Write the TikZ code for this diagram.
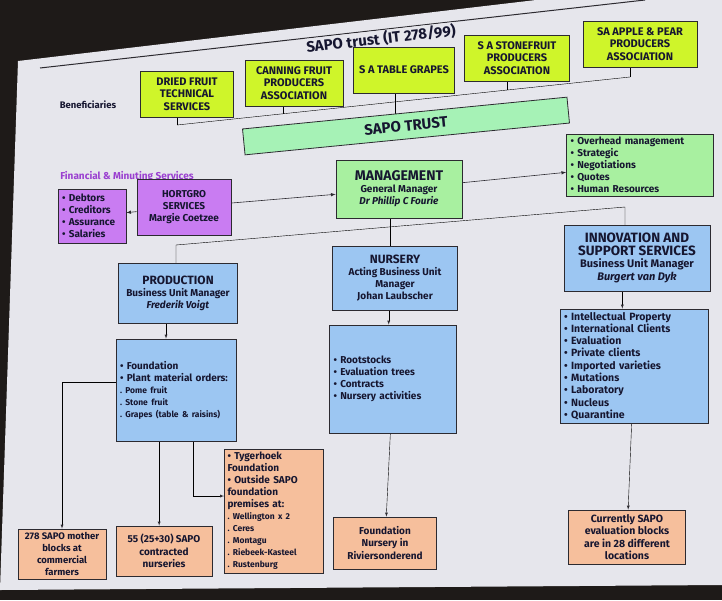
\documentclass[tikz,border=0pt]{standalone}
\usepackage{fontspec}
\setmainfont{Fira Sans}
\usepackage{tikz}
\usetikzlibrary{shapes,arrows,backgrounds,positioning,calc}

\definecolor{screen}{HTML}{1E1A18}
\definecolor{slide}{HTML}{E6E6EC}
\definecolor{ink}{HTML}{161630}
\definecolor{edge}{HTML}{2C2A30}
\definecolor{benefyellow}{HTML}{CFF52A}
\definecolor{trustgreen}{HTML}{A6F2B6}
\definecolor{mgmtgreen}{HTML}{A8F0A0}
\definecolor{hortpurple}{HTML}{C97CF2}
\definecolor{labelpurple}{HTML}{9A3FD0}
\definecolor{unitblue}{HTML}{9CC6F2}
\definecolor{sitepeach}{HTML}{F6BF9C}

\newcommand{\fsz}[2]{\fontsize{#1}{#2}\selectfont}
\newcommand{\smallitem}[1]{{\fsz{8.5}{11.5}.\ #1}}

\begin{document}
\begin{tikzpicture}[x=1pt, y=-1pt, >=latex,
  box/.style={draw=edge, line width=0.8pt, align=center, inner sep=2pt, text=ink, font=\bfseries\fsz{10}{12}},
  benef/.style={box, fill=benefyellow, minimum height=46pt, font=\bfseries\fsz{11}{12.5}},
  bullets/.style={box, align=left, inner sep=3pt},
  unitbox/.style={box, fill=unitblue},
  sitebox/.style={box, fill=sitepeach, font=\bfseries\fsz{9.5}{11.8}},
  link/.style={draw=edge, line width=0.6pt}]
\useasboundingbox (0,0) rectangle (722,600);
\begin{scope}[on background layer]
\fill [screen] (0,0) rectangle (722,600);
\fill [slide] (18,61) -- (536,0) -- (722,0) -- (722,585) -- (0,590) -- cycle;
\end{scope}

\draw [edge, line width=1pt] (40,68) -- (645,0);
\node [rotate=6.5, fill=slide, inner sep=1pt, text=ink, font=\bfseries\fsz{15}{17}] (title) at (381,39) {SAPO trust (IT 278/99)};
\node [text=ink, font=\bfseries\fsz{9.5}{11}] (benlabel) at (88,105) {Beneficiaries};

\node [benef, minimum width=93pt] (dried) at (187,94) {DRIED FRUIT\\TECHNICAL\\SERVICES};
\node [benef, minimum width=98pt] (canning) at (294,83) {CANNING FRUIT\\PRODUCERS\\ASSOCIATION};
\node [benef, minimum width=101pt] (grapes) at (404,70) {S A TABLE GRAPES};
\node [benef, minimum width=105pt] (stone) at (517,58) {S A STONEFRUIT\\PRODUCERS\\ASSOCIATION};
\node [benef, minimum width=114pt] (apple) at (640,44) {SA APPLE \& PEAR\\PRODUCERS\\ASSOCIATION};

\node [box, fill=trustgreen, rotate=5.6, minimum width=326pt, minimum height=26pt, font=\bfseries\fsz{15}{17}] (trust) at (406,126) {SAPO TRUST};

\node [text=labelpurple, font=\bfseries\fsz{10}{12}] (finlabel) at (127,177) {Financial \& Minuting Services};
\node [bullets, fill=hortpurple, minimum width=68pt, minimum height=54pt, text width=60pt] (finance) at (92,216) {• Debtors\\• Creditors\\• Assurance\\• Salaries};
\node [box, fill=hortpurple, minimum width=94pt, minimum height=56pt] (hortgro) at (184,207) {HORTGRO\\SERVICES\\Margie Coetzee};
\node [box, fill=mgmtgreen, minimum width=126pt, minimum height=58pt] (mgmt) at (399,189) {{\fsz{14}{16}MANAGEMENT}\\General Manager\\\textit{Dr Phillip C Fourie}};
\node [bullets, fill=mgmtgreen, minimum width=147pt, minimum height=62pt, text width=139pt] (overhead) at (640,165) {• Overhead management\\• Strategic\\• Negotiations\\• Quotes\\• Human Resources};

\node [unitbox, minimum width=119pt, minimum height=60pt] (prod) at (178,293) {{\fsz{12}{14}PRODUCTION}\\Business Unit Manager\\\textit{Frederik Voigt}};
\node [unitbox, minimum width=125pt, minimum height=64pt] (nursery) at (395,278) {{\fsz{12}{14}NURSERY}\\Acting Business Unit\\Manager\\Johan Laubscher};
\node [unitbox, minimum width=146pt, minimum height=66pt, font=\bfseries\fsz{11}{12.5}] (innov) at (637,258) {{\fsz{13.5}{14.5}INNOVATION AND}\\{\fsz{13.5}{14.5}SUPPORT SERVICES}\\Business Unit Manager\\\textit{Burgert van Dyk}};

\node [bullets, fill=unitblue, minimum width=120pt, minimum height=102pt, text width=112pt] (plist) at (176,390) {• Foundation\\• Plant material orders:\\\smallitem{Pome fruit}\\\smallitem{Stone fruit}\\\smallitem{Grapes (table \& raisins)}};
\node [bullets, fill=unitblue, minimum width=127pt, minimum height=108pt, text width=119pt] (nlist) at (393,379) {• Rootstocks\\• Evaluation trees\\• Contracts\\• Nursery activities};
\node [bullets, fill=unitblue, minimum width=148pt, minimum height=114pt, text width=140pt, font=\bfseries\fsz{10.5}{12.3}] (ilist) at (634,366) {• Intellectual Property\\• International Clients\\• Evaluation\\• Private clients\\• Imported varieties\\• Mutations\\• Laboratory\\• Nucleus\\• Quarantine};

\node [sitebox, minimum width=88pt, minimum height=50pt] (boxa) at (62,554) {278 SAPO mother\\blocks at\\commercial\\farmers};
\node [sitebox, minimum width=96pt, minimum height=50pt, font=\bfseries\fsz{10}{12.5}] (boxb) at (164,551) {55 (25+30) SAPO\\contracted\\nurseries};
\node [sitebox, bullets, minimum width=99pt, minimum height=124pt, text width=93pt] (boxc) at (274,511) {• Tygerhoek\\Foundation\\• Outside SAPO\\foundation\\premises at:\\\smallitem{Wellington x 2}\\\smallitem{Ceres}\\\smallitem{Montagu}\\\smallitem{Riebeek-Kasteel}\\\smallitem{Rustenburg}};
\node [sitebox, minimum width=103pt, minimum height=52pt, font=\bfseries\fsz{10}{12.5}] (boxd) at (385,543) {Foundation\\Nursery in\\Riviersonderend};
\node [sitebox, minimum width=117pt, minimum height=54pt, font=\bfseries\fsz{10.5}{12.3}] (boxe) at (627,537) {Currently SAPO\\evaluation blocks\\are in 28 different\\locations};

\begin{scope}[on background layer, link]
\coordinate (b1) at (177,125);
\coordinate (b5) at (630,77);
\draw (b1) -- (b5);
\foreach \n/\t in {dried/0, canning/0.234, grapes/0.481, stone/0.728, apple/1}
  \draw ($(b1)!\t!(b5)$) coordinate (drop) -- (drop |- \n.center);
\coordinate (g) at ($(b1)!0.481!(b5)$);
\draw (g) -- (g |- trust.center);
\coordinate (j1) at (176,245);
\coordinate (j3) at (625,207);
\coordinate (j2) at ($(j1)!0.478!(j3)$);
\draw (j1 |- prod.center) -- (j1) -- (j3) -- (j3 |- innov.center);
\draw (j2 |- mgmt.center) -- (j2 |- nursery.center);
\coordinate (pp) at ($(prod.south west)!0.4!(prod.south east)$);
\coordinate (np) at ($(nursery.south west)!0.45!(nursery.south east)$);
\coordinate (ip) at ($(innov.south west)!0.4!(innov.south east)$);
\draw [->] (pp |- prod.center) -- (pp |- plist.north);
\draw [->] (np |- nursery.center) -- (np |- nlist.north);
\draw [->] (ip |- innov.center) -- (ip |- ilist.north);
\draw [->] ([yshift=8pt]plist.center) -| (boxa.north);
\coordinate (tb) at ($(boxb.north west)!0.45!(boxb.north east)$);
\draw [->] (tb |- plist.center) -- (tb);
\coordinate (tc) at ($(boxc.north west)!0.38!(boxc.south west)$);
\draw [->] ([xshift=17pt]plist.center) |- (tc);
\draw [->] (nlist) -- (boxd);
\draw [->] (ilist) -- (boxe);
\end{scope}
\draw [link, ->] (hortgro) -- (finance);
\draw [link, ->] (hortgro) -- (mgmt);
\draw [link, ->] (mgmt) -- (overhead);
\end{tikzpicture}
\end{document}
